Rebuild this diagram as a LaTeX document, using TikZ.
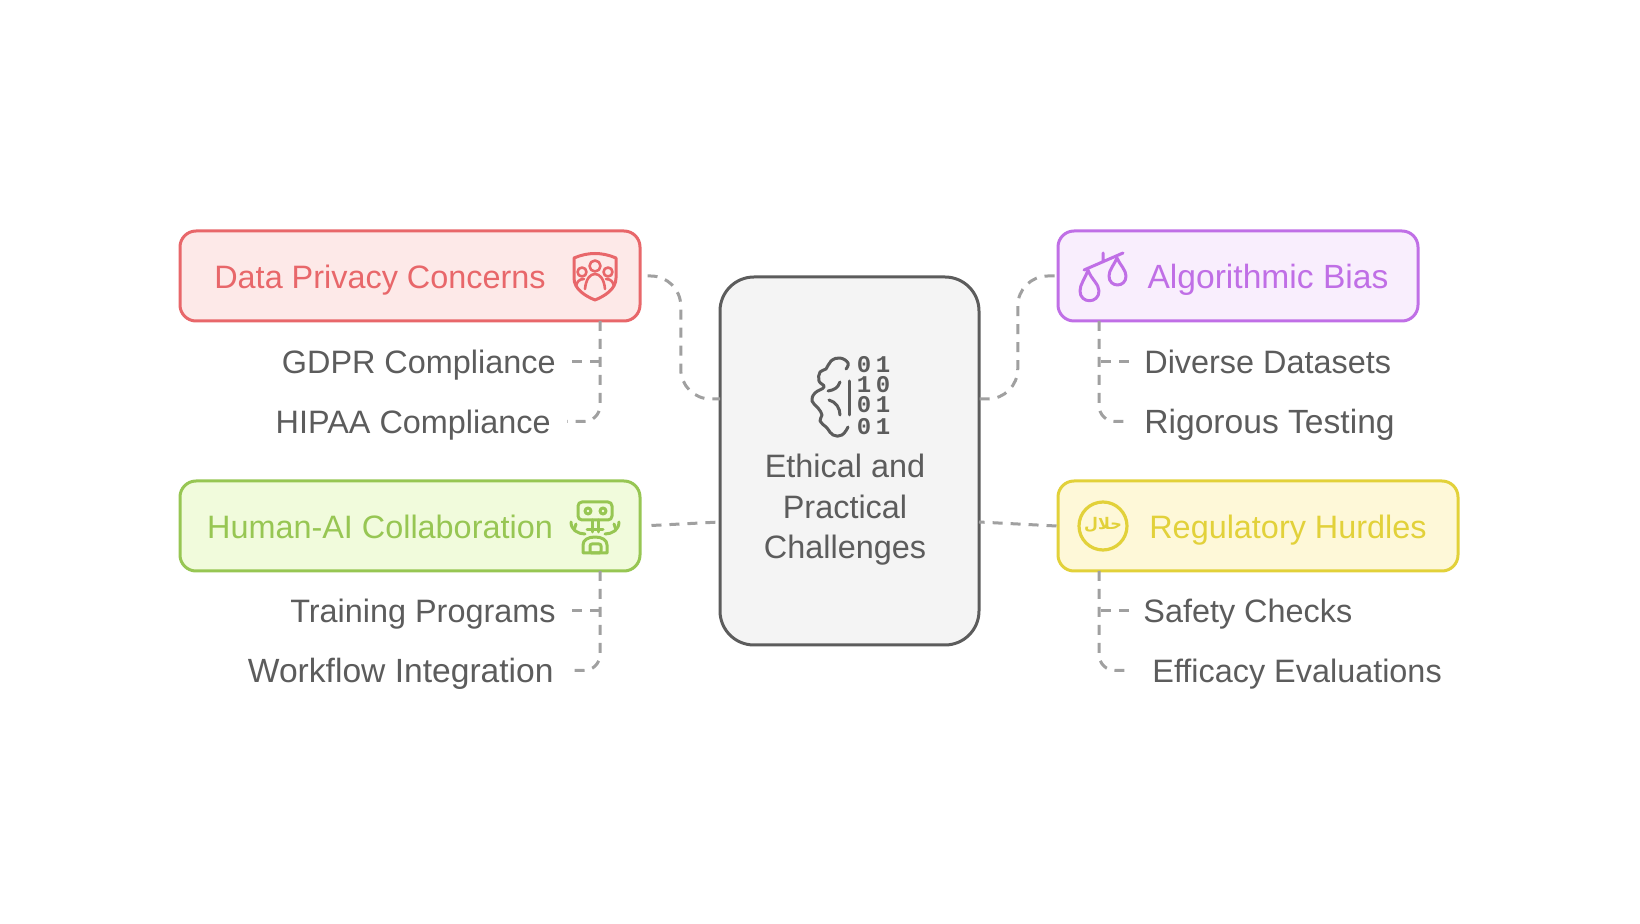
\documentclass[tikz,border=0pt]{standalone}
\usepackage{xcolor}
\usepackage{fontspec}
\usetikzlibrary{calc}
\setmainfont{Liberation Sans}
\setmonofont{Liberation Mono}
\newfontfamily\arabicfont[Script=Arabic]{DejaVu Sans}
\TeXXeTstate=1
\definecolor{inkgray}{HTML}{5C5C5C}
\definecolor{linkgray}{HTML}{A0A0A0}
\definecolor{hubfill}{HTML}{F4F4F4}
\definecolor{redline}{HTML}{E8676A}
\definecolor{redfill}{HTML}{FDE9E8}
\definecolor{greenline}{HTML}{97C653}
\definecolor{greenfill}{HTML}{F1FBDC}
\definecolor{purpleline}{HTML}{C06FE6}
\definecolor{purplefill}{HTML}{F9EEFD}
\definecolor{yellowline}{HTML}{E2D13A}
\definecolor{yellowfill}{HTML}{FEF8D8}
\tikzset{
    topicbox/.style={draw=#1line, fill=#1fill, line width=1.5pt, rounded corners=8pt,
          minimum height=45pt, inner sep=0pt},
    plaintext/.style={font=\fontsize{16.2pt}{19pt}\selectfont, inner sep=0pt, text height=11.6pt, text depth=0pt},
    widertext/.style={font=\fontsize{16.8pt}{19pt}\selectfont},
    topictext/.style={plaintext, text=#1line},
    leaf/.style={plaintext, text=inkgray},
    link/.style={draw=linkgray, line width=1.5pt, dash pattern=on 5pt off 4pt},
    iconline/.style={draw=#1, line width=1.5pt, line cap=round, line join=round}
}

\begin{document}
\begin{tikzpicture}[x=0.5pt, y=-0.5pt]
    \useasboundingbox (0,0) rectangle (1640,924);

    % centre card
    \node[draw=inkgray, fill=hubfill, line width=1.5pt, rounded corners=17pt,
          minimum width=129.5pt, minimum height=184pt] (hub) at (849.5,461) {};
    \node[text=inkgray, font=\fontsize{16.2pt}{20.2pt}\selectfont, align=center] (hubtext) at (845,510)
          {Ethical and\\Practical\\Challenges};
    \coordinate (hubnw) at (720,399);
    \coordinate (hubne) at (979,399);
    \coordinate (hubsw) at (720,522);
    \coordinate (hubse) at (979,522);

    % topic boxes
    \node[topicbox=red, minimum width=230pt] (privacy) at (410,276) {};
    \node[topicbox=green, minimum width=230pt] (collab) at (410,526) {};
    \node[topicbox=purple, minimum width=180pt] (bias) at (1238,276) {};
    \node[topicbox=yellow, minimum width=200pt] (hurdles) at (1258,526) {};
    \node[topictext=red] (privacytext) at (380,276.5) {Data Privacy Concerns};
    \node[topictext=green] (collabtext) at (380,526.5) {Human-AI Collaboration};
    \node[topictext=purple, widertext] (biastext) at (1268,276.5) {Algorithmic Bias};
    \node[topictext=yellow] (hurdlestext) at (1288,526.5) {Regulatory Hurdles};

    % leaves
    \node[leaf, anchor=east] (gdpr) at (556,361.5) {GDPR Compliance};
    \node[leaf, anchor=east] (hipaa) at (551,421.5) {HIPAA Compliance};
    \node[leaf, anchor=east] (training) at (556,611) {Training Programs};
    \node[leaf, anchor=east, widertext] (workflow) at (554,670.5) {Workflow Integration};
    \node[leaf, anchor=west] (diverse) at (1144,361.5) {Diverse Datasets};
    \node[leaf, anchor=west, widertext] (rigorous) at (1144,421.5) {Rigorous Testing};
    \node[leaf, anchor=west] (safety) at (1143,611) {Safety Checks};
    \node[leaf, anchor=west] (efficacy) at (1152,670.5) {Efficacy Evaluations};

    % connectors to the card
    \draw[link, rounded corners=15pt, shorten <=3pt] (privacy.east) -| ($(privacy.east)!0.5!(hubnw)$) |- (hubnw);
    \draw[link, rounded corners=15pt, shorten <=1pt] (bias.west) -| ($(bias.west)!0.5!(hubne)$) |- (hubne);
    \draw[link, shorten <=5pt] (collab.east) -- (hubsw);
    \draw[link] (hurdles.west) -- (hubse);

    % connectors to the leaves
    \coordinate (taprp) at (600,321);
    \coordinate (tapgp) at (600,571);
    \coordinate (tapbs) at (1099,321);
    \coordinate (tapys) at (1099,571);
    \draw[link, shorten <=8pt] (gdpr.east) -- (gdpr.east -| taprp);
    \draw[link, rounded corners=8pt, shorten >=8pt] (taprp) |- (hipaa.east);
    \draw[link, shorten <=8pt] (training.east) -- (training.east -| tapgp);
    \draw[link, rounded corners=8pt, shorten >=6.5pt] (tapgp) |- (workflow.east);
    \draw[link, shorten <=7.5pt] (diverse.west) -- (diverse.west -| tapbs);
    \draw[link, rounded corners=8pt, shorten >=6.5pt] (tapbs) |- (rigorous.west);
    \draw[link, shorten <=7pt] (safety.west) -- (safety.west -| tapys);
    \draw[link, rounded corners=8pt, shorten >=10.5pt] (tapys) |- (efficacy.west);

    % brain and bits
    \draw[iconline=inkgray] plot[smooth, tension=0.75] coordinates {(846,369) (848,363) (840,358) (831,361) (826,369)
          (820,372) (819,381) (824,387) (815,393) (812,401) (818,408) (822,415) (820,421) (827,428) (833,435) (842,435) (848,427)};
    \draw[iconline=inkgray] (840,382) .. controls (838,388) and (834,390) .. (828,391);
    \draw[iconline=inkgray] (829,400) .. controls (836,402) and (840,408) .. (840,415);
    \draw[iconline=inkgray] (849,381) -- (849,415);
    \foreach \rowy/\bita/\bitb/\tag in {365/0/1/a, 385/1/0/b, 405/0/1/c, 427/0/1/d} {
        \node[text=inkgray, font=\ttfamily\bfseries\fontsize{12pt}{10pt}\selectfont, inner sep=0pt] (bit\tag l) at (864,\rowy) {\bita};
        \node[text=inkgray, font=\ttfamily\bfseries\fontsize{12pt}{10pt}\selectfont, inner sep=0pt] (bit\tag r) at (883,\rowy) {\bitb};
    }

    % shield with people
    \draw[iconline=redline] (574,258) .. controls (588,252) and (602,252) .. (616,258) -- (616,278)
          .. controls (616,289) and (605,296) .. (595,300) .. controls (585,296) and (574,289) .. (574,278) -- cycle;
    \draw[iconline=redline, line width=1.3pt] (595,266) circle (5.5) (582,272) circle (4.5) (608,272) circle (4.5);
    \draw[iconline=redline, line width=1.3pt] (585,289) .. controls (586,279) and (590,274) .. (595,274)
          .. controls (600,274) and (604,279) .. (605,289);
    \draw[iconline=redline, line width=1.3pt] (576,286) .. controls (577,282) and (579,279) .. (584,279);
    \draw[iconline=redline, line width=1.3pt] (614,286) .. controls (613,282) and (611,279) .. (606,279);

    % robot
    \draw[iconline=greenline, rounded corners=2pt] (578,502) rectangle (612,520);
    \draw[iconline=greenline] (588,511) circle (3) (603,511) circle (3);
    \draw[iconline=greenline] (592,520) -- (592,532) (598,520) -- (598,532) (587,530) -- (603,530);
    \draw[iconline=greenline] (585,534) .. controls (578,534) and (571,530) .. (571,522);
    \draw[iconline=greenline] (605,534) .. controls (612,534) and (619,530) .. (619,522);
    \draw[iconline=greenline] (576,524) -- (574,530) (614,524) -- (616,530);
    \draw[iconline=greenline] (583,553) -- (583,545) .. controls (583,540) and (588,537) .. (595,537)
          .. controls (602,537) and (607,540) .. (607,545) -- (607,553) -- cycle;
    \draw[iconline=greenline, rounded corners=1pt] (590,544) rectangle (601,553);

    % scales
    \draw[iconline=purpleline] (1084,270) -- (1123,253) (1103,253) -- (1103,262);
    \draw[iconline=purpleline] (1088,270) .. controls (1085,279) and (1080,284) .. (1080,291)
          .. controls (1080,304) and (1099,304) .. (1099,291) .. controls (1099,284) and (1091,279) .. cycle;
    \draw[iconline=purpleline] (1117,258) .. controls (1114,265) and (1109,270) .. (1109,276)
          .. controls (1109,288) and (1126,288) .. (1126,276) .. controls (1126,270) and (1120,265) .. cycle;

    % halal badge
    \node[draw=yellowline, line width=1.6pt, circle, minimum size=24pt, inner sep=0pt] (badge) at (1103,526) {};
    \node[text=yellowline, font=\arabicfont\bfseries\fontsize{8pt}{10pt}\selectfont, inner sep=0pt] (badgetext) at (1103,525) {\beginR حلال\endR};
\end{tikzpicture}
\end{document}
